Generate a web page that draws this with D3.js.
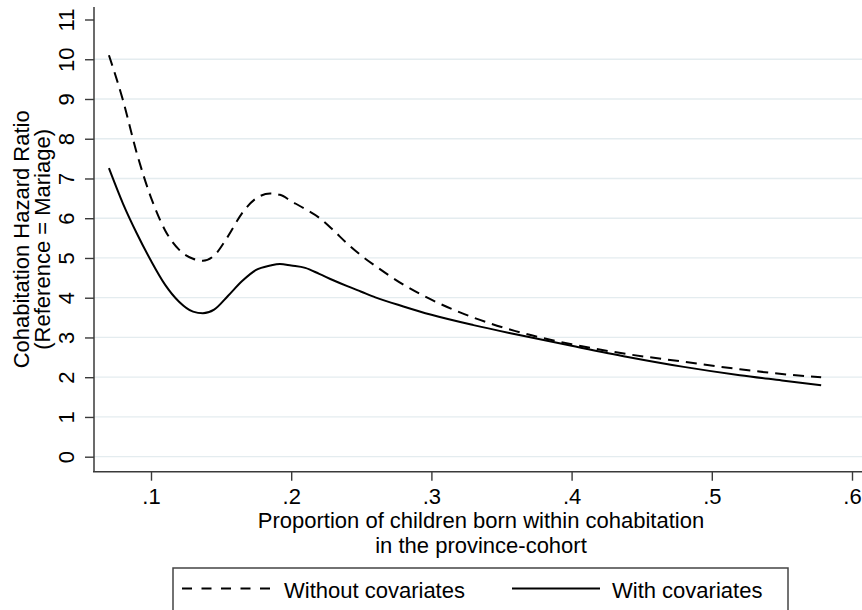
<!DOCTYPE html>
<html>
<head>
<meta charset="utf-8">
<script src="https://cdn.jsdelivr.net/npm/d3@7"></script>
<style>
  html, body { margin: 0; padding: 0; background: #fff; }
  svg { display: block; }
  text { font-family: "Liberation Sans", Arial, Helvetica, sans-serif; fill: #000; }
</style>
</head>
<body>
<svg id="chart" width="862" height="610"></svg>
<script>
// ---- data ----
const xValues = [0.07, 0.08, 0.09, 0.10, 0.11, 0.12, 0.13, 0.137, 0.145, 0.155, 0.165, 0.175, 0.185, 0.192, 0.20, 0.21, 0.22, 0.23, 0.24, 0.25, 0.26, 0.28, 0.30, 0.33, 0.36, 0.40, 0.44, 0.48, 0.52, 0.55, 0.578];
const withoutCovariates = [10.1, 8.97, 7.62, 6.52, 5.70, 5.21, 4.98, 4.93, 5.06, 5.55, 6.13, 6.50, 6.62, 6.59, 6.43, 6.23, 6.01, 5.70, 5.36, 5.06, 4.80, 4.33, 3.95, 3.50, 3.16, 2.83, 2.58, 2.39, 2.20, 2.08, 2.00];
const withCovariates = [7.26, 6.37, 5.61, 4.93, 4.33, 3.90, 3.65, 3.61, 3.70, 4.05, 4.42, 4.70, 4.81, 4.85, 4.81, 4.75, 4.60, 4.44, 4.29, 4.15, 4.01, 3.78, 3.57, 3.31, 3.08, 2.79, 2.51, 2.26, 2.05, 1.92, 1.80];
const xTicks = [0.1, 0.2, 0.3, 0.4, 0.5, 0.6];
const xTickLabels = [".1", ".2", ".3", ".4", ".5", ".6"];
const yTicks = [0, 1, 2, 3, 4, 5, 6, 7, 8, 9, 10, 11];
const yGridTicks = [0, 1, 2, 3, 4, 5, 6, 7, 8, 9, 10];
const yTitleLines = ["Cohabitation Hazard Ratio", "(Reference = Mariage)"];
const xTitleLines = ["Proportion of children born within cohabitation", "in the province-cohort"];
const seriesNames = ["Without covariates", "With covariates"];

// ---- layout ----
const svg = d3.select("#chart");
const FS = 22;
const axisColor = "#3a3a3a";
const plotLeft = 94, plotRight = 868, plotTop = 7, plotBottom = 471.7;

const x = d3.scaleLinear().domain([0.1, 0.6]).range([151, 852]);
const y = d3.scaleLinear().domain([0, 11]).range([456.7, 19.5]);

// gridlines
svg.append("g").selectAll("line").data(yGridTicks).join("line")
  .attr("x1", plotLeft).attr("x2", plotRight)
  .attr("y1", d => y(d)).attr("y2", d => y(d))
  .attr("stroke", "#e4ecef").attr("stroke-width", 1.3);

// x axis
const xAxis = svg.append("g").attr("transform", `translate(0,${plotBottom})`)
  .call(d3.axisBottom(x).tickValues(xTicks).tickFormat((d, i) => xTickLabels[i]).tickSize(9).tickSizeOuter(0));
xAxis.select(".domain").remove();
xAxis.selectAll(".tick line").attr("stroke", axisColor).attr("stroke-width", 1.4);
xAxis.selectAll(".tick text").attr("y", 32).attr("dy", null)
  .style("font-size", FS + "px").attr("font-family", null);
xAxis.append("line").attr("x1", plotLeft - 1).attr("x2", 862).attr("y1", 0).attr("y2", 0)
  .attr("stroke", axisColor).attr("stroke-width", 1.5);

// y axis
const yAxis = svg.append("g").attr("transform", `translate(${plotLeft},0)`)
  .call(d3.axisLeft(y).tickValues(yTicks).tickSize(9).tickSizeOuter(0));
yAxis.select(".domain").remove();
yAxis.selectAll(".tick line").attr("stroke", axisColor).attr("stroke-width", 1.4);
yAxis.selectAll(".tick text")
  .attr("dy", null)
  .attr("transform", "rotate(-90)")
  .attr("x", 0).attr("y", -20)
  .attr("text-anchor", "middle")
  .style("font-size", FS + "px").attr("font-family", null);
yAxis.append("line").attr("x1", 0).attr("x2", 0).attr("y1", plotTop).attr("y2", plotBottom)
  .attr("stroke", axisColor).attr("stroke-width", 1.5);

// y title
const yMid = (plotTop + plotBottom) / 2;
const yTitleX = [28.5, 50];
yTitleLines.forEach((t, i) => {
  svg.append("text").attr("transform", `translate(${yTitleX[i]},${yMid}) rotate(-90)`)
    .attr("text-anchor", "middle").style("font-size", FS + "px").text(t);
});

// x title
const xTitleY = [527.5, 552.5];
xTitleLines.forEach((t, i) => {
  svg.append("text").attr("x", 481).attr("y", xTitleY[i])
    .attr("text-anchor", "middle").style("font-size", FS + "px").text(t);
});

// lines
const line = d3.line().curve(d3.curveMonotoneX).x((d, i) => x(xValues[i])).y(d => y(d));
svg.append("path").datum(withoutCovariates).attr("d", line)
  .attr("fill", "none").attr("stroke", "#000").attr("stroke-width", 2)
  .attr("stroke-dasharray", "11,7");
svg.append("path").datum(withCovariates).attr("d", line)
  .attr("fill", "none").attr("stroke", "#000").attr("stroke-width", 2);

// legend
const lg = svg.append("g");
lg.append("rect").attr("x", 173).attr("y", 568).attr("width", 615).attr("height", 60)
  .attr("fill", "#fff").attr("stroke", "#444").attr("stroke-width", 1.5);
lg.append("line").attr("x1", 182).attr("x2", 272).attr("y1", 588.5).attr("y2", 588.5)
  .attr("stroke", "#000").attr("stroke-width", 2).attr("stroke-dasharray", "10,9.5");
lg.append("text").attr("x", 284).attr("y", 597.5).style("font-size", FS + "px").text(seriesNames[0]);
lg.append("line").attr("x1", 512).attr("x2", 600).attr("y1", 588.5).attr("y2", 588.5)
  .attr("stroke", "#000").attr("stroke-width", 2);
lg.append("text").attr("x", 612).attr("y", 597.5).style("font-size", FS + "px").text(seriesNames[1]);
</script>
</body>
</html>
